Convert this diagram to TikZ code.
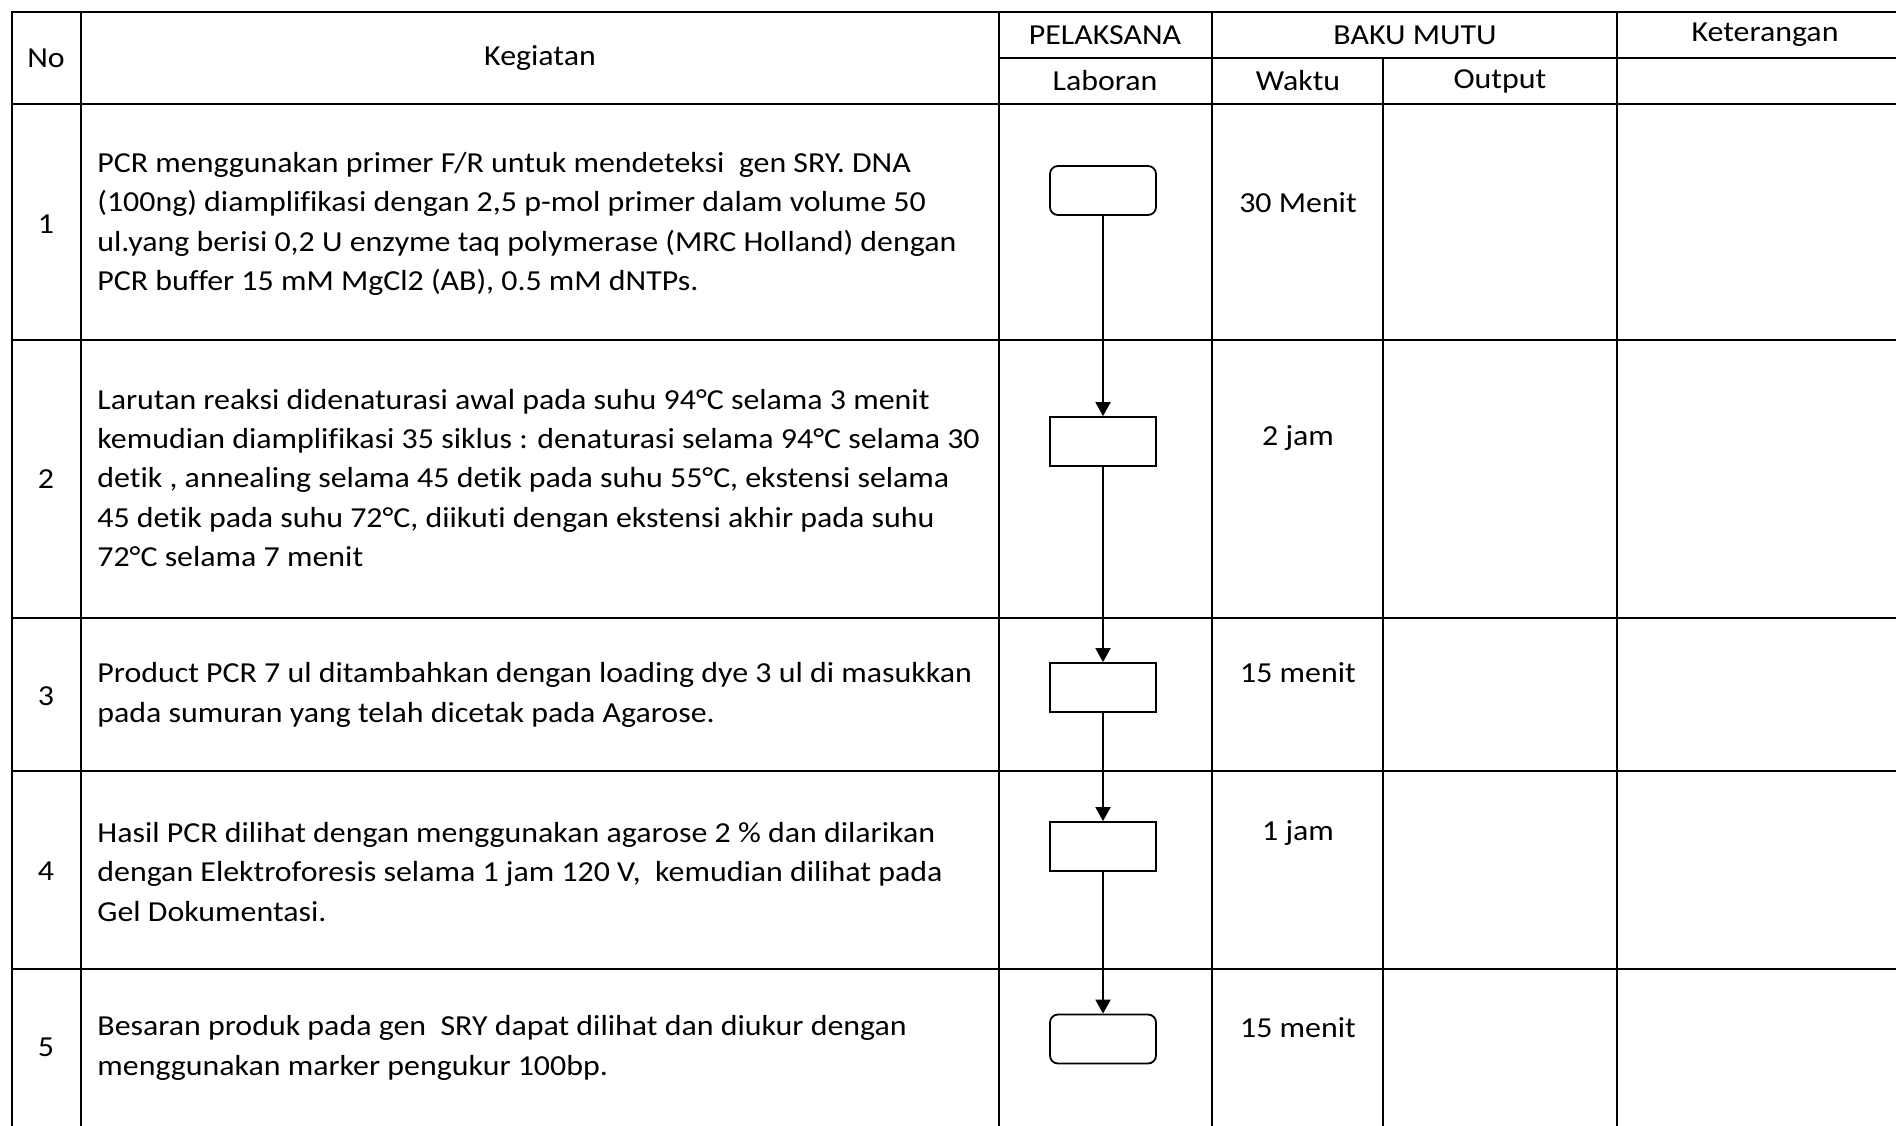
\documentclass[tikz,border=0pt]{standalone}
\usepackage{fontspec}
\setmainfont{Carlito}[FakeStretch=1.10,Ligatures=NoCommon]
\usetikzlibrary{arrows.meta}

\begin{document}
\begin{tikzpicture}[x=0.5pt,y=0.5pt,yscale=-1,xscale=1,
	grid/.style={line width=1.2pt},
	kegtext/.style={anchor=west,inner sep=0pt,align=left,font=\fontsize{14.5}{19.7}\selectfont},
	celltext/.style={inner sep=0pt,font=\fontsize{14.5}{19.7}\selectfont},
	prosesbox/.style={draw,line width=0.9pt,minimum width=53pt,minimum height=24.5pt,inner sep=0pt},
	ujungbox/.style={prosesbox,rounded corners=4pt},
	alur/.style={line width=0.9pt,-{Triangle[width=7.5pt,length=7pt]}}]
	\useasboundingbox (0,0) rectangle (1896,1125);
	\clip (0,0) rectangle (1896,1125);
	
	%Table frame
	\draw [grid] (12,12) rectangle (1913,1130);
	%Header lines
	\draw [grid] (999,58) -- (1913,58);
	\draw [grid] (12,104) -- (1913,104);
	%Row lines
	\foreach \ry in {340,618,771,969}
		\draw [grid] (12,\ry) -- (1913,\ry);
	%Column lines
	\foreach \cx in {81,999,1212,1617}
		\draw [grid] (\cx,12) -- (\cx,1130);
	\draw [grid] (1383,58) -- (1383,1130);
	
	% Header Nodes
	\node [celltext] (hno) at (46,58) {No};
	\node [celltext] (hkeg) at (540,58) {Kegiatan};
	\node [celltext] (hpel) at (1105,35) {PELAKSANA};
	\node [celltext] (hbaku) at (1415,35) {BAKU MUTU};
	\node [celltext] (hket) at (1765,35) {Keterangan};
	\node [celltext] (hlab) at (1105,81) {Laboran};
	\node [celltext] (hwaktu) at (1298,81) {Waktu};
	\node [celltext] (hout) at (1500,81) {Output};
	
	% Row numbers
	\node [celltext] (no1) at (46,224) {1};
	\node [celltext] (no2) at (46,479) {2};
	\node [celltext] (no3) at (46,696) {3};
	\node [celltext] (no4) at (46,871) {4};
	\node [celltext] (no5) at (46,1047) {5};
	
	% Kegiatan text
	\node [kegtext] (keg1) at (97,224) {PCR menggunakan primer F/R untuk mendeteksi\ \ gen SRY. DNA\\(100ng) diamplifikasi dengan 2,5 p-mol primer dalam volume 50\\ul.yang berisi 0,2 U enzyme taq polymerase (MRC Holland) dengan\\PCR buffer 15 mM MgCl2 (AB), 0.5 mM dNTPs.};
	\node [kegtext] (keg2) at (97,478) {Larutan reaksi didenaturasi awal pada suhu 94°C selama 3 menit\\kemudian diamplifikasi 35 siklus : denaturasi selama 94°C selama 30\\detik , annealing selama 45 detik pada suhu 55°C, ekstensi selama\\45 detik pada suhu 72°C, diikuti dengan ekstensi akhir pada suhu\\72°C selama 7 menit};
	\node [kegtext] (keg3) at (97,695) {Product PCR 7 ul ditambahkan dengan loading dye 3 ul di masukkan\\pada sumuran yang telah dicetak pada Agarose.};
	\node [kegtext] (keg4) at (97,872) {Hasil PCR dilihat dengan menggunakan agarose 2 \% dan dilarikan\\dengan Elektroforesis selama 1 jam 120 V,\ \ kemudian dilihat pada\\Gel Dokumentasi.};
	\node [kegtext] (keg5) at (97,1048) {Besaran produk pada gen\ \ SRY dapat dilihat dan diukur dengan\\menggunakan marker pengukur 100bp.};
	
	% Laboran flow
	\node [ujungbox] (lab1) at (1103,190.5) {};
	\node [prosesbox] (lab2) at (1103,441.5) {};
	\node [prosesbox] (lab3) at (1103,687.5) {};
	\node [prosesbox] (lab4) at (1103,846.5) {};
	\node [ujungbox] (lab5) at (1103,1039) {};
	\draw [alur] (lab1) -- (lab2);
	\draw [alur] (lab2) -- (lab3);
	\draw [alur] (lab3) -- (lab4);
	\draw [alur] (lab4) -- (lab5);
	
	% Waktu text
	\node [celltext] (wkt1) at (1298,203) {30 Menit};
	\node [celltext] (wkt2) at (1298,438) {2 jam};
	\node [celltext] (wkt3) at (1298,673) {15 menit};
	\node [celltext] (wkt4) at (1298,833) {1 jam};
	\node [celltext] (wkt5) at (1298,1028) {15 menit};
	
\end{tikzpicture}
\end{document}
